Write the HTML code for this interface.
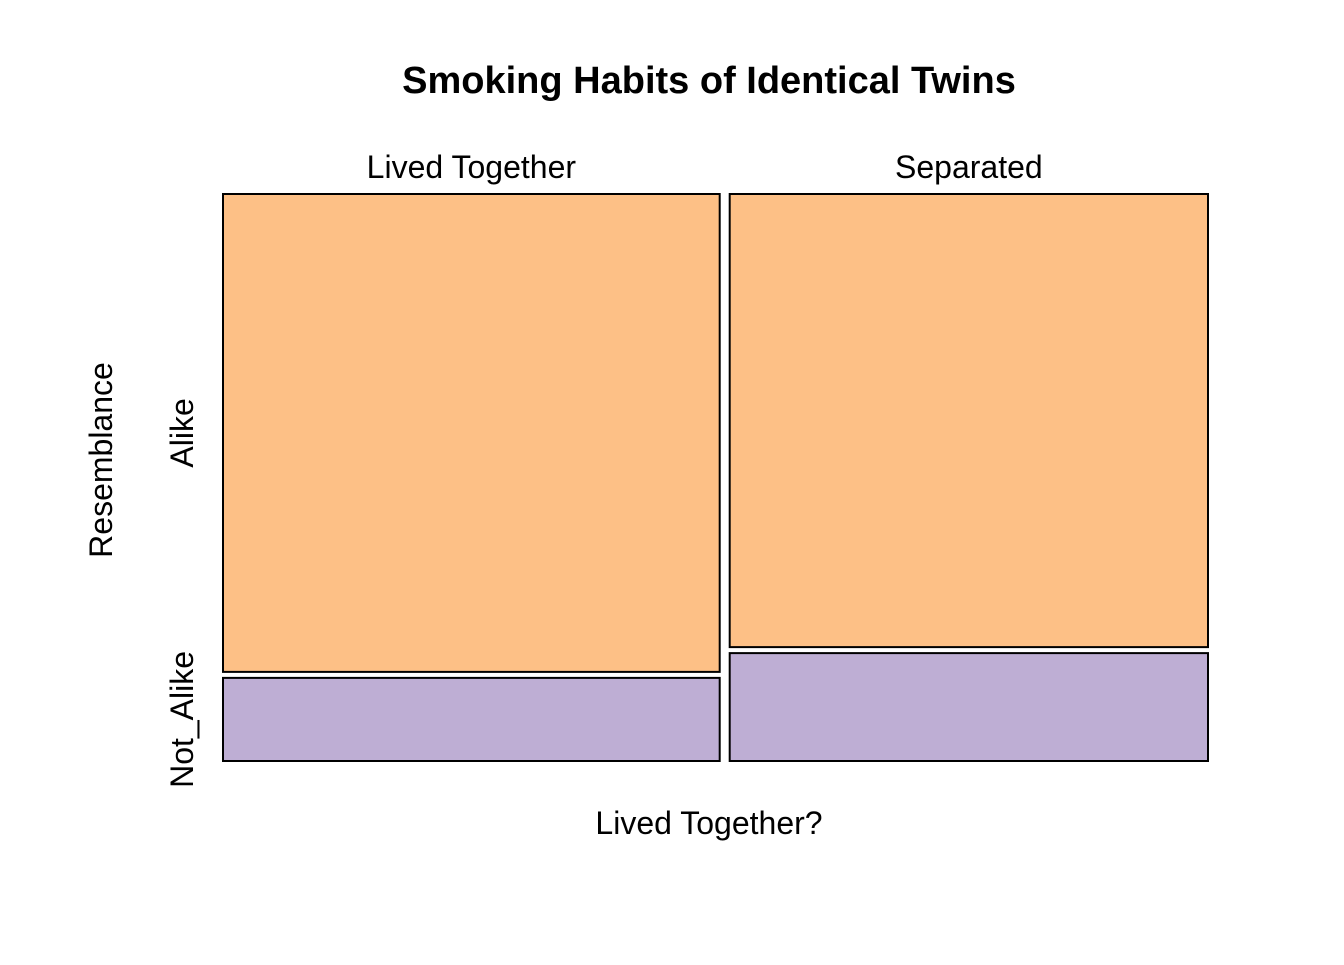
<!DOCTYPE html>
<html><head><meta charset="utf-8"><style>
body{margin:0;background:#fff;}
svg text{font-family:"Liberation Sans",Arial,sans-serif;fill:#000;}
</style></head><body>
<svg id="chart" width="1344" height="960" viewBox="0 0 1344 960">
<text x="709" y="93" font-size="38" font-weight="bold" text-anchor="middle">Smoking Habits of Identical Twins</text>
<text x="709" y="834" font-size="32" text-anchor="middle">Lived Together?</text>
<text transform="translate(112,460) rotate(-90)" font-size="32" text-anchor="middle">Resemblance</text>
<g id="marks"></g>
</svg>
<script>
const columns = ["Lived Together", "Separated"];
const rows = ["Alike", "Not_Alike"];
const alikeCounts = [23, 21];
const notAlikeCounts = [4, 5];
const fills = ["#FDC086", "#BEAED4"];

const ns = "http://www.w3.org/2000/svg";
const g = document.getElementById("marks");
const X0 = 223, X1 = 1208, Y0 = 194, Y1 = 761, HG = 10, VG = 6;
const totals = columns.map((c, i) => alikeCounts[i] + notAlikeCounts[i]);
const grand = totals.reduce((a, b) => a + b, 0);
const availW = X1 - X0 - HG * (columns.length - 1);
const availH = Y1 - Y0 - VG;
function mk(tag, attrs) { const e = document.createElementNS(ns, tag); for (const k in attrs) e.setAttribute(k, attrs[k]); g.appendChild(e); return e; }
let x = X0;
columns.forEach((col, i) => {
  const w = availW * totals[i] / grand;
  const h1 = availH * alikeCounts[i] / totals[i];
  const h2 = availH * notAlikeCounts[i] / totals[i];
  const r1 = mk("rect", {x: x, y: Y0, width: w, height: h1, fill: fills[0], stroke: "#000", "stroke-width": 2});
  
  
  const r2 = mk("rect", {x: x, y: Y0 + h1 + VG, width: w, height: h2, fill: fills[1], stroke: "#000", "stroke-width": 2});
  
  
  const t = mk("text", {x: x + w / 2, y: 178, "font-size": 32, "text-anchor": "middle"});
  t.textContent = col;
  
  
  x += w + HG;
});
const h1a = availH * alikeCounts[0] / totals[0];
const h2a = availH * notAlikeCounts[0] / totals[0];
const rowCenters = [Y0 + h1a / 2, Y0 + h1a + VG + h2a / 2];
rows.forEach((r, j) => {
  const t = mk("text", {transform: "translate(193," + rowCenters[j] + ") rotate(-90)", "font-size": 32, "text-anchor": "middle"});
  t.textContent = r;
  
  
});
</script>
</body></html>
